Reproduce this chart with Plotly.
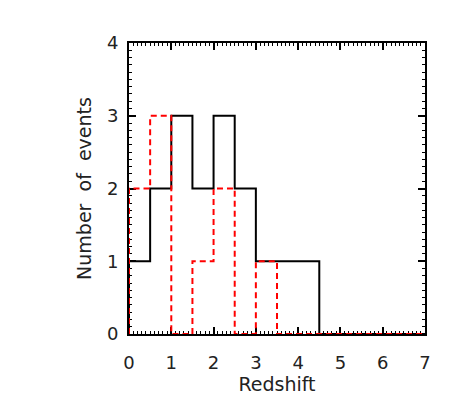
import plotly.graph_objects as go

bin_edges = [0.0, 0.5, 1.0, 1.5, 2.0, 2.5, 3.0, 3.5, 4.0, 4.5, 5.0, 5.5, 6.0, 6.5, 7.0]
counts_all = [1, 2, 3, 2, 3, 2, 1, 1, 1, 0, 0, 0, 0, 0]
counts_sub = [2, 3, 0, 1, 2, 0, 1, 0, 0, 0, 0, 0, 0, 0]
x_ticks = [0, 1, 2, 3, 4, 5, 6, 7]
y_ticks = [0, 1, 2, 3, 4]


def step_xy(edges, counts):
    xs = [edges[0]] + list(edges[:-1]) + [edges[-1], edges[-1]]
    ys = [0] + list(counts) + [counts[-1], 0]
    return xs, ys


fig = go.Figure()
bx, by = step_xy(bin_edges, counts_all)
fig.add_trace(go.Scatter(x=bx, y=by, mode="lines", line=dict(color="black", width=2, shape="hv"),
                         showlegend=False, hoverinfo="skip"))
rx, ry = step_xy(bin_edges, counts_sub)
fig.add_trace(go.Scatter(x=rx, y=ry, mode="lines",
                         line=dict(color="#ff0000", width=2, shape="hv", dash="6px,4px"),
                         showlegend=False, hoverinfo="skip"))

font = "DejaVu Sans"
axis_common = dict(
    showgrid=False, zeroline=False, showline=True, linecolor="black", linewidth=2,
    mirror="allticks", ticks="inside", ticklen=7, tickwidth=1.5, tickcolor="black",
    tickfont=dict(family=font, size=18, color="#222"),
    layer="below traces",
)
fig.update_xaxes(range=[0, 7], tickvals=x_ticks, ticktext=[str(v) for v in x_ticks],
                 ticklabelstandoff=11,
                 title=dict(text="Redshift", font=dict(family=font, size=19, color="#222"), standoff=6),
                 minor=dict(dtick=0.1, tick0=0, ticks="inside", ticklen=3, tickwidth=1, tickcolor="black"),
                 **axis_common)
fig.update_yaxes(range=[0, 4], tickvals=y_ticks, ticktext=[str(v) for v in y_ticks],
                 ticklabelstandoff=5,
                 title=dict(text="Number  of  events", font=dict(family=font, size=19, color="#222"), standoff=10),
                 minor=dict(dtick=0.1, tick0=0, ticks="inside", ticklen=3, tickwidth=1, tickcolor="black"),
                 **axis_common)
fig.update_layout(width=463, height=417, margin=dict(l=121, r=46, t=35, b=91),
                  plot_bgcolor="white", paper_bgcolor="white")
fig.write_html("out.html")
